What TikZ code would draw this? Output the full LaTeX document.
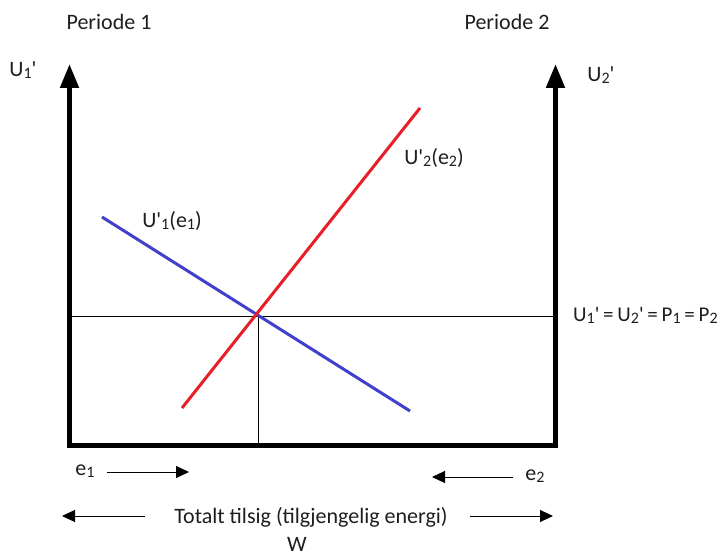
\documentclass[tikz,border=0pt]{standalone}
\usepackage{fontspec}
\setmainfont{Carlito}
\usetikzlibrary{arrows.meta}
\newcommand{\sbd}[1]{\raisebox{-0.1em}{\fontsize{16}{16}\selectfont #1}}
\newcommand{\pr}{\textquotesingle}
\newcommand{\eqsp}{\hspace{0.18em}}
\definecolor{bluel}{RGB}{64,64,204}
\definecolor{redl}{RGB}{232,30,40}
\definecolor{txt}{RGB}{30,30,30}
\begin{document}
\begin{tikzpicture}[x=1pt,y=-1pt,
  lbl/.style={font=\fontsize{22}{26}\selectfont,text=txt,inner sep=0pt},
  axis/.style={line width=5pt,-{Triangle[width=18pt,length=24pt]}},
  thinl/.style={line width=1pt},
  smallarr/.style={line width=1pt,-{Triangle[width=12pt,length=13pt]}}]
\path[use as bounding box] (0,0) rectangle (720,556);
% axes
\coordinate (bl) at (69.5,445);
\coordinate (br) at (555.5,445);
\coordinate (tl) at (69.5,64);
\coordinate (tr) at (555.5,64);
\draw[axis] (bl) -- (tl);
\draw[axis] (br) -- (tr);
\draw[line width=5pt] ([xshift=-2.5pt]bl) -- ([xshift=2.5pt]br);
% equilibrium lines
\coordinate (eq) at (258,316);
\coordinate (hl) at (69,316);
\coordinate (hr) at (556,316);
\coordinate (vb) at (258,445);
\draw[thinl] (hl) -- (hr);
\draw[thinl] (eq) -- (vb);
% curves
\coordinate (b1) at (102,217);
\coordinate (b2) at (410,411);
\coordinate (r1) at (182,408);
\coordinate (r2) at (420,108);
\draw[bluel,line width=3pt] (b1) -- (b2);
\draw[redl,line width=3pt] (r1) -- (r2);
% labels
\node[lbl] (p1) at (109,22) {Periode 1};
\node[lbl] (p2) at (507,22) {Periode 2};
\node[lbl] (u1) at (23,70) {U\sbd{1}\pr};
\node[lbl] (u2) at (601,75) {U\sbd{2}\pr};
\node[lbl] (c2) at (434,158) {U\pr\sbd{2}(e\sbd{2})};
\node[lbl] (c1) at (172,221) {U\pr\sbd{1}(e\sbd{1})};
\node[lbl,anchor=west,font=\fontsize{21}{25}\selectfont] (eqt) at (573,315) {U\sbd{1}\pr\eqsp=\eqsp U\sbd{2}\pr\eqsp=\eqsp P\sbd{1}\eqsp=\eqsp P\sbd{2}};
% bottom arrows
\node[lbl] (e1) at (85,471) {e\sbd{1}};
\coordinate (e1a) at (107,472);
\coordinate (e1b) at (189,472);
\draw[smallarr] (e1a) -- (e1b);
\node[lbl] (e2) at (535,476) {e\sbd{2}};
\coordinate (e2a) at (513,477);
\coordinate (e2b) at (432,477);
\draw[smallarr] (e2a) -- (e2b);
\node[lbl] (tot) at (311,517) {Totalt tilsig (tilgjengelig energi)};
\coordinate (la) at (145,516);
\coordinate (lb) at (62,516);
\draw[smallarr] (la) -- (lb);
\coordinate (ra) at (470,516);
\coordinate (rb) at (553,516);
\draw[smallarr] (ra) -- (rb);
\node[lbl] (w) at (297,544) {W};
\end{tikzpicture}
\end{document}
